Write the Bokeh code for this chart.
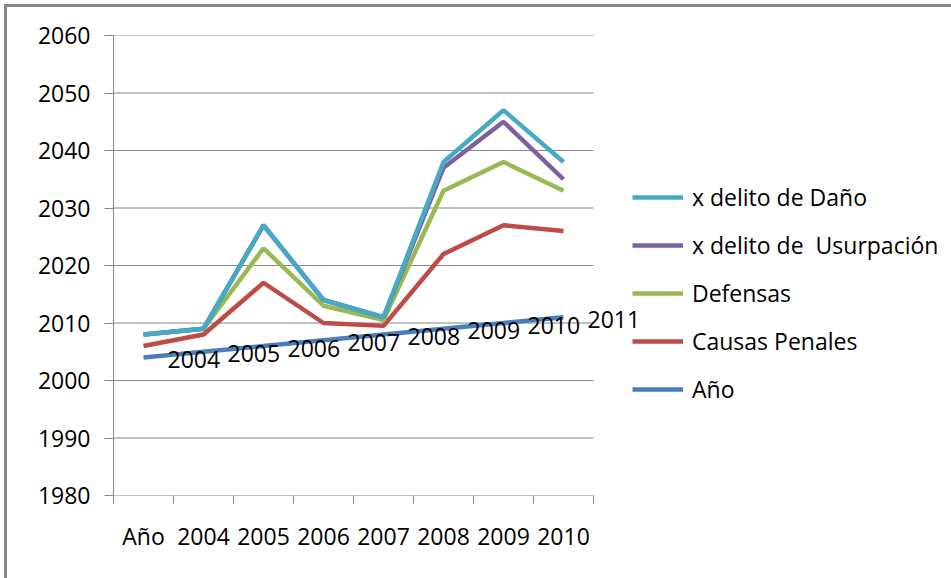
import numpy as np
from bokeh.plotting import figure
from bokeh.models import (Range1d, FixedTicker, Legend, LegendItem, LinearAxis,
                          LabelSet, ColumnDataSource, InlineStyleSheet)
from bokeh.core.properties import value
from bokeh.embed import file_html
from bokeh.resources import INLINE

# ---- data (stacked line chart values as displayed) ----
categories = ["Año", "2004", "2005", "2006", "2007", "2008", "2009", "2010"]
ano = [2004, 2005, 2006, 2007, 2008, 2009, 2010, 2011]
causas_penales = [2006, 2008, 2017, 2010, 2009.5, 2022, 2027, 2026]
defensas = [2008, 2009, 2023, 2013, 2010.5, 2033, 2038, 2033]
usurpacion = [2008, 2009, 2027, 2014, 2011, 2037, 2045, 2035]
dano = [2008, 2009, 2027, 2014, 2011, 2038, 2047, 2038]
y_ticks = [1980, 1990, 2000, 2010, 2020, 2030, 2040, 2050, 2060]

series = [
    ("Año", ano, "#4A7EBB"),
    ("Causas Penales", causas_penales, "#BE4B48"),
    ("Defensas", defensas, "#98B954"),
    ("x delito de  Usurpación", usurpacion, "#7D60A0"),
    ("x delito de Daño", dano, "#46AAC5"),
]

FONT = "Open Sans"
FS = "23px"
GREY = "#868686"

W, H = 951, 578
LEFT, TOP, PLOT_W, PLOT_H = 113, 35, 480, 460
n = len(categories)
centers = (np.arange(n) + 0.5).tolist()
bounds = np.arange(n + 1).tolist()
# the frame extends right over the legend area so nothing is clipped
x_end = n * (W - LEFT) / PLOT_W

p = figure(width=W, height=H, output_backend="svg", toolbar_location=None,
           x_range=Range1d(0, x_end), y_range=Range1d(y_ticks[0], y_ticks[-1]),
           min_border_left=LEFT, min_border_right=0, min_border_top=TOP,
           min_border_bottom=H - TOP - PLOT_H, x_axis_type=None, y_axis_type=None)
p.outline_line_color = None
p.border_fill_alpha = 0
p.stylesheets = [InlineStyleSheet(css=(
    ":host { background:"
    f" linear-gradient({GREY},{GREY}) 4px 4px / 3px 600px no-repeat,"
    f" linear-gradient({GREY},{GREY}) 4px 4px / 960px 3px no-repeat, #ffffff; }}"))]

# x axis (ticks at category boundaries, labels at centres)
xaxis = LinearAxis(ticker=FixedTicker(ticks=centers, minor_ticks=bounds))
xaxis.major_label_overrides = {c: lab for c, lab in zip(centers, categories)}
xaxis.major_tick_line_color = None
xaxis.minor_tick_line_color = GREY
xaxis.minor_tick_out = 8
xaxis.minor_tick_in = 0
xaxis.axis_line_color = None
xaxis.major_label_standoff = 16
xaxis.major_label_text_font = FONT
xaxis.major_label_text_font_size = FS
xaxis.major_label_text_color = "black"
p.add_layout(xaxis, "below")

# y axis
yaxis = LinearAxis(ticker=FixedTicker(ticks=y_ticks, minor_ticks=[]))
yaxis.axis_line_color = GREY
yaxis.major_tick_line_color = GREY
yaxis.major_tick_out = 9
yaxis.major_tick_in = 0
yaxis.minor_tick_line_color = None
yaxis.major_label_standoff = 14
yaxis.major_label_text_font = FONT
yaxis.major_label_text_font_size = FS
yaxis.major_label_text_color = "black"
p.add_layout(yaxis, "left")

# horizontal gridlines + category-axis line across the category span only
p.segment(x0=[0] * len(y_ticks), x1=[n] * len(y_ticks), y0=y_ticks, y1=y_ticks,
          line_color=GREY, line_width=1)

renderers = {}
for name, vals, color in series:
    r = p.line(centers, vals, line_color=color, line_width=4.5)
    renderers[name] = r

# data labels for Año series
lab_src = ColumnDataSource(dict(x=centers, y=ano, t=[str(v) for v in ano]))
p.add_layout(LabelSet(x="x", y="y", text="t", source=lab_src, x_offset=24, y_offset=-2,
                      text_align="left", text_baseline="middle",
                      text_font=value(FONT), text_font_size=value(FS),
                      text_color="black"))

items = [LegendItem(label=name, renderers=[renderers[name]]) for name, _, _ in reversed(series)]
legend = Legend(items=items, location=(519, 90), glyph_width=51, glyph_height=20,
                label_height=20, label_standoff=9, spacing=16, padding=0, margin=0,
                border_line_color=None, background_fill_alpha=0,
                label_text_font=FONT, label_text_font_size=FS,
                label_text_color="black")
p.add_layout(legend)

open("out.html", "w").write(file_html(p, INLINE))
